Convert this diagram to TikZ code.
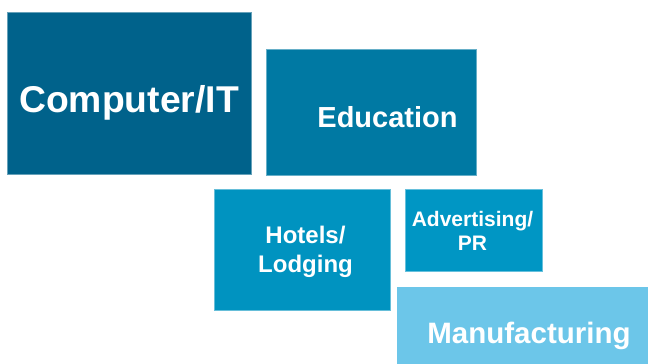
\documentclass[tikz,border=0pt]{standalone}
\usepackage{fontspec}
\setmainfont{Liberation Sans}
\usetikzlibrary{positioning}
\definecolor{itblue}{HTML}{00628B}
\definecolor{edublue}{HTML}{0079A3}
\definecolor{hotelblue}{HTML}{0093C0}
\definecolor{adblue}{HTML}{0096C4}
\definecolor{manublue}{HTML}{6CC6E9}
\begin{document}
\begin{tikzpicture}[x=1pt, y=-1pt,
          tile/.style={rectangle, anchor=north west, inner sep=0pt, outer sep=0pt, line width=0.5pt},
          tiletext/.style={text=white, align=center, inner sep=0pt}
      ]
      \useasboundingbox (0,0) rectangle (648,364);

      % Tiles
      \node[tile, fill=itblue, draw=itblue!60!white, minimum width=244pt, minimum height=162pt] (computer) at (7,12) {};
      \node[tile, fill=edublue, draw=edublue!60!white, minimum width=210pt, minimum height=126pt] (education) at (266,49) {};
      \node[tile, fill=hotelblue, draw=hotelblue!60!white, minimum width=176pt, minimum height=121pt] (hotels) at (214,189) {};
      \node[tile, fill=adblue, draw=adblue!60!white, minimum width=137pt, minimum height=82pt] (advert) at (405,189) {};
      \node[tile, fill=manublue, draw=manublue, minimum width=251pt, minimum height=77pt] (manufacturing) at (397,287) {};

      % Labels
      \node[tiletext, anchor=base, font=\bfseries\fontsize{37.3}{44}\selectfont] (computertext) at (129,112) {Computer/IT};
      \node[tiletext, anchor=base, font=\bfseries\fontsize{29}{35}\selectfont] (educationtext) at (387.5,127) {Education};
      \node[tiletext, font=\bfseries\fontsize{24}{29}\selectfont] (hotelstext) at (305.5,252) {Hotels/\\Lodging};
      \node[tiletext, font=\bfseries\fontsize{21}{24}\selectfont] (adverttext) at (472.5,231) {Advertising/\\PR};
      \node[tiletext, anchor=base, font=\bfseries\fontsize{29.5}{35}\selectfont] (manufacturingtext) at (529,343) {Manufacturing};

      \end{tikzpicture}
\end{document}
